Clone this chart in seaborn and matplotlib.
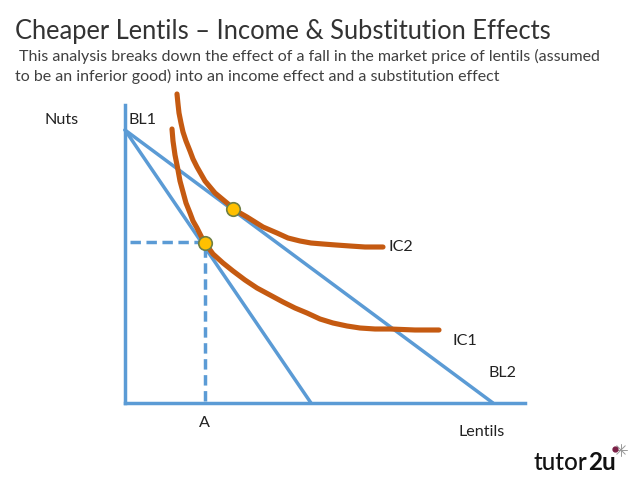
import numpy as np
import pandas as pd
import seaborn as sns
import matplotlib.pyplot as plt

bl1_x = [0, 186]
bl1_y = [273, 0]
bl2_x = [0, 368]
bl2_y = [273, 0]
ic2_x = [52, 53, 54, 56, 58, 61, 65, 68, 72, 76, 80, 85, 90, 96, 102, 108, 115, 122, 130, 138, 145, 152, 163, 175, 186, 198, 211, 225, 240, 258]
ic2_y = [309, 299, 290, 280, 271, 262, 252, 244, 236, 229, 222, 216, 210, 205, 200, 195, 190, 186, 181, 176, 173, 170, 165, 162, 160, 159, 158, 157, 156, 156]
ic1_x = [47, 48, 50, 53, 55, 58, 61, 65, 68, 72, 76, 80, 88, 98, 108, 120, 132, 145, 158, 170, 182, 195, 208, 222, 235, 250, 265, 290, 314]
ic1_y = [274, 262, 248, 233, 222, 211, 200, 190, 182, 175, 167, 160, 149, 140, 132, 123, 115, 108, 101, 95, 90, 84, 80, 77, 75, 74, 74, 73, 73]
guide_x = [5, 80, 80]
guide_y = [161, 161, 0]
eq_x = [108, 80]
eq_y = [194, 160]

blue = '#5b9bd5'
orange = '#c55a11'

sns.set_theme(style='white')
plt.rcParams['font.family'] = ['Lato', 'DejaVu Sans']

fig = plt.figure(figsize=(6.38, 4.79), dpi=100)
ax = fig.add_axes([125 / 638, 1 - 403 / 479, 400 / 638, 298 / 479])

sns.lineplot(x=bl1_x, y=bl1_y, color=blue, lw=2.5, ax=ax, clip_on=False)
sns.lineplot(x=bl2_x, y=bl2_y, color=blue, lw=2.5, ax=ax, clip_on=False)
sns.lineplot(x=ic2_x, y=ic2_y, sort=False, estimator=None, color=orange, lw=3.7, ax=ax,
             clip_on=False, solid_joinstyle='round')
sns.lineplot(x=ic1_x, y=ic1_y, sort=False, estimator=None, color=orange, lw=3.7, ax=ax,
             clip_on=False, solid_joinstyle='round')
ax.plot(guide_x, guide_y, color=blue, lw=2.5, ls=(0, (3, 1.6)), clip_on=False)
sns.scatterplot(x=eq_x, y=eq_y, color='#ffc000', edgecolor='#6f7f45', linewidth=1.2, s=95, ax=ax, zorder=5, clip_on=False)

ax.set_xlim(0, 400)
ax.set_ylim(0, 298)
ax.set_xticks([])
ax.set_yticks([])
ax.set_xlabel('')
ax.set_ylabel('')
sns.despine(ax=ax)
for side in ['left', 'bottom']:
    ax.spines[side].set_color(blue)
    ax.spines[side].set_linewidth(2.5)

def label(x, y, s, **kw):
    # x, y in pixels from top left of the image
    fig.text(x / 638, 1 - y / 479, s, va='center', **kw)

label(15, 31, 'Cheaper Lentils – Income & Substitution Effects', fontsize=18.4, color='#333333')
label(19, 56, 'This analysis breaks down the effect of a fall in the market price of lentils (assumed', fontsize=11.55, color='#404040')
label(15, 76, 'to be an inferior good) into an income effect and a substitution effect', fontsize=11.55, color='#404040')

for x, y, s in [(44, 120, 'Nuts'), (129, 120, 'BL1'), (389, 247, 'IC2'), (452, 341, 'IC1'),
                (488, 373, 'BL2'), (199, 423, 'A'), (458, 432, 'Lentils')]:
    label(x, y, s, fontsize=11.6, color='#222222')

# logo
fig.text(533 / 638, 1 - 462 / 479, 'tutor', fontsize=17.5, color='#111111', va='center', fontweight='medium')
fig.text(588 / 638, 1 - 462 / 479, '2u', fontsize=17.5, color='#111111', va='center', fontweight='bold')
petals = np.deg2rad([0, 45, 90, 135, 180, 225, 270, 315])
for a in petals:
    fig.add_artist(plt.Line2D([621 / 638, (621 + 6 * np.cos(a)) / 638],
                              [1 - 450 / 479, 1 - (450 + 6 * np.sin(a)) / 479],
                              color='#999999', lw=0.7))
fig.add_artist(plt.Line2D([615 / 638], [1 - 449 / 479], marker='o', ms=3.5, color='#7a1f45'))

fig.savefig('out.png', dpi=100)
